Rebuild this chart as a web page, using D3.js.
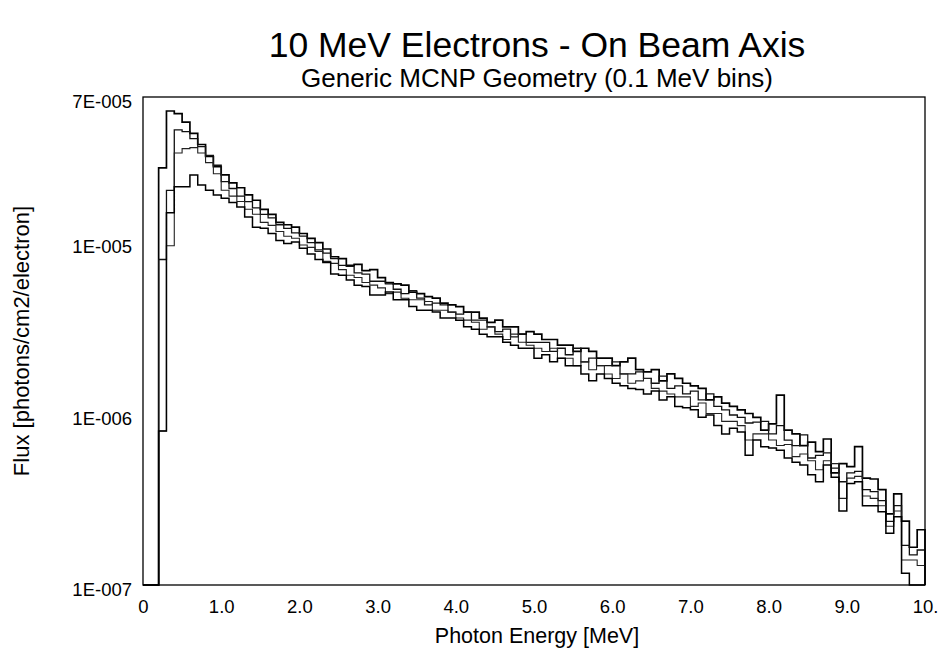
<!DOCTYPE html>
<html>
<head>
<meta charset="utf-8">
<script src="https://cdn.jsdelivr.net/npm/d3@7"></script>
<style>
    body { margin: 0; background: #fff; }
    svg { display: block; font-family: "Liberation Sans", Arial, sans-serif; }
</style>
</head>
<body>
<div id="chart"></div>
<script>
// bin width of the tallies (MeV); bin i covers [i*binWidth, (i+1)*binWidth]
const binWidth = 0.1;

// flux per bin, photons/cm2/electron (0 = below the axis)
const series1 = [
    0, 0, 2.7e-5, 5.8e-5, 5.6e-5, 5.0e-5, 4.3e-5, 3.7e-5, 3.15e-5, 2.75e-5,
    2.46e-5, 2.21e-5, 2.07e-5, 1.88e-5, 1.75e-5, 1.55e-5, 1.45e-5, 1.30e-5, 1.26e-5, 1.22e-5,
    1.12e-5, 1.05e-5, 9.9e-6, 9.1e-6, 8.2e-6, 8.0e-6, 7.3e-6, 7.4e-6, 6.8e-6, 6.9e-6,
    6.2e-6, 5.8e-6, 5.7e-6, 5.6e-6, 5.1e-6, 5.0e-6, 4.8e-6, 4.7e-6, 4.4e-6, 4.3e-6,
    4.2e-6, 3.9e-6, 3.9e-6, 3.6e-6, 3.4e-6, 3.5e-6, 3.2e-6, 3.2e-6, 2.9e-6, 3.0e-6,
    2.9e-6, 2.7e-6, 2.7e-6, 2.5e-6, 2.5e-6, 2.3e-6, 2.4e-6, 2.3e-6, 2.1e-6, 2.1e-6,
    1.9e-6, 2.0e-6, 2.1e-6, 1.8e-6, 1.75e-6, 1.8e-6, 1.55e-6, 1.7e-6, 1.6e-6, 1.5e-6,
    1.45e-6, 1.4e-6, 1.2e-6, 1.25e-6, 1.15e-6, 1.1e-6, 1.05e-6, 1.0e-6, 9.5e-7, 8.0e-7,
    8.7e-7, 1.28e-6, 8.0e-7, 7.6e-7, 6.5e-7, 6.8e-7, 6.0e-7, 7.1e-7, 4.5e-7, 5.1e-7,
    4.9e-7, 6.4e-7, 4.2e-7, 4.15e-7, 3.6e-7, 2.6e-7, 3.4e-7, 2.36e-7, 1.66e-7, 2.1e-7
];
const series2 = [
    0, 0, 7.9e-6, 2.0e-5, 4.5e-5, 4.4e-5, 4.0e-5, 3.6e-5, 3.2e-5, 2.8e-5,
    2.25e-5, 2.05e-5, 1.85e-5, 1.72e-5, 1.58e-5, 1.45e-5, 1.38e-5, 1.26e-5, 1.20e-5, 1.13e-5,
    1.08e-5, 9.9e-6, 9.0e-6, 8.6e-6, 8.0e-6, 7.3e-6, 7.2e-6, 6.6e-6, 6.5e-6, 5.9e-6,
    5.9e-6, 5.7e-6, 5.3e-6, 5.0e-6, 5.2e-6, 4.7e-6, 4.3e-6, 4.4e-6, 4.3e-6, 3.9e-6,
    3.8e-6, 3.9e-6, 3.5e-6, 3.5e-6, 3.2e-6, 3.0e-6, 3.1e-6, 2.8e-6, 2.9e-6, 2.6e-6,
    2.6e-6, 2.6e-6, 2.3e-6, 2.4e-6, 2.2e-6, 2.4e-6, 2.0e-6, 2.1e-6, 1.9e-6, 1.9e-6,
    2.0e-6, 1.7e-6, 1.7e-6, 1.75e-6, 1.6e-6, 1.5e-6, 1.65e-6, 1.4e-6, 1.45e-6, 1.3e-6,
    1.35e-6, 1.2e-6, 1.3e-6, 1.1e-6, 1.05e-6, 9.8e-7, 9.5e-7, 8.8e-7, 8.9e-7, 9.0e-7,
    7.6e-7, 8.5e-7, 7.0e-7, 6.5e-7, 7.5e-7, 5.5e-7, 5.7e-7, 5.9e-7, 4.8e-7, 4.0e-7,
    4.5e-7, 4.6e-7, 3.6e-7, 3.5e-7, 3.1e-7, 2.35e-7, 2.9e-7, 1.7e-7, 1.5e-7, 1.6e-7
];
const series3 = [
    0, 0, 7.9e-7, 9.5e-6, 3.3e-5, 3.5e-5, 3.55e-5, 3.3e-5, 2.9e-5, 2.5e-5,
    2.0e-5, 1.85e-5, 1.72e-5, 1.55e-5, 1.45e-5, 1.30e-5, 1.25e-5, 1.15e-5, 1.08e-5, 1.05e-5,
    9.6e-6, 9.3e-6, 8.8e-6, 7.7e-6, 7.5e-6, 6.9e-6, 6.4e-6, 6.2e-6, 5.8e-6, 5.6e-6,
    5.4e-6, 5.0e-6, 5.1e-6, 4.7e-6, 4.6e-6, 4.6e-6, 4.5e-6, 4.0e-6, 4.0e-6, 3.9e-6,
    3.6e-6, 3.5e-6, 3.4e-6, 3.1e-6, 3.2e-6, 2.9e-6, 2.7e-6, 2.9e-6, 2.6e-6, 2.5e-6,
    2.4e-6, 2.3e-6, 2.4e-6, 2.1e-6, 2.1e-6, 1.9e-6, 2.0e-6, 1.8e-6, 1.9e-6, 1.7e-6,
    1.6e-6, 1.7e-6, 1.5e-6, 1.55e-6, 1.6e-6, 1.4e-6, 1.35e-6, 1.3e-6, 1.25e-6, 1.25e-6,
    1.1e-6, 1.15e-6, 1.0e-6, 1.0e-6, 9.0e-7, 9.0e-7, 8.5e-7, 7.0e-7, 7.6e-7, 7.6e-7,
    7.0e-7, 6.5e-7, 6.6e-7, 5.6e-7, 5.8e-7, 5.3e-7, 4.7e-7, 5.3e-7, 5.1e-7, 3.2e-7,
    4.2e-7, 4.3e-7, 3.3e-7, 3.2e-7, 2.9e-7, 2.2e-7, 2.7e-7, 1.4e-7, 1.4e-7, 1.3e-7
];
const series4 = [
    0, 0, 7.9e-7, 1.48e-5, 2.1e-5, 2.1e-5, 2.46e-5, 2.15e-5, 2.0e-5, 1.88e-5,
    1.8e-5, 1.7e-5, 1.6e-5, 1.4e-5, 1.22e-5, 1.2e-5, 1.12e-5, 1.02e-5, 9.8e-6, 1.0e-5,
    9.2e-6, 8.5e-6, 7.9e-6, 7.6e-6, 6.5e-6, 6.4e-6, 6.0e-6, 5.6e-6, 5.5e-6, 4.9e-6,
    4.9e-6, 5.1e-6, 4.6e-6, 4.6e-6, 4.2e-6, 4.0e-6, 4.0e-6, 3.9e-6, 3.6e-6, 3.6e-6,
    3.5e-6, 3.2e-6, 3.1e-6, 2.9e-6, 2.8e-6, 2.8e-6, 2.6e-6, 2.5e-6, 2.4e-6, 2.4e-6,
    2.1e-6, 2.2e-6, 2.0e-6, 2.1e-6, 1.9e-6, 1.9e-6, 1.7e-6, 1.55e-6, 1.7e-6, 1.6e-6,
    1.5e-6, 1.45e-6, 1.4e-6, 1.38e-6, 1.3e-6, 1.35e-6, 1.2e-6, 1.25e-6, 1.1e-6, 1.08e-6,
    1.05e-6, 9.5e-7, 9.8e-7, 8.5e-7, 7.6e-7, 8.2e-7, 7.8e-7, 5.7e-7, 7.0e-7, 6.4e-7,
    6.3e-7, 6.1e-7, 5.5e-7, 5.2e-7, 5.0e-7, 4.4e-7, 4.0e-7, 5.0e-7, 4.25e-7, 2.7e-7,
    3.9e-7, 4.0e-7, 2.9e-7, 2.9e-7, 2.67e-7, 2.0e-7, 2.5e-7, 1.17e-7, 0, 0
];

const xTicks = [0, 1, 2, 3, 4, 5, 6, 7, 8, 9, 10];
const xTickLabels = ["0", "1.0", "2.0", "3.0", "4.0", "5.0", "6.0", "7.0", "8.0", "9.0", "10."];
const yTicks = [1e-7, 1e-6, 1e-5, 7e-5];
const yTickLabels = ["1E-007", "1E-006", "1E-005", "7E-005"];

class StepChart {
    constructor(_config, _data) {
        this.config = {
            parentElement: _config.parentElement,
            containerWidth: 939,
            containerHeight: 653,
            margin: {
                top: 97,
                right: 14,
                bottom: 68,
                left: 143
            }
        }
        this.data = _data;
        this.initVis();
    }

    initVis() {
        let vis = this;

        vis.config.width = vis.config.containerWidth - vis.config.margin.left - vis.config.margin.right;
        vis.config.height = vis.config.containerHeight - vis.config.margin.top - vis.config.margin.bottom;

        vis.root = d3.select(vis.config.parentElement)
            .append("svg")
            .attr("width", vis.config.containerWidth)
            .attr("height", vis.config.containerHeight);

        vis.svg = vis.root.append("g")
            .attr("transform", `translate(${vis.config.margin.left},${vis.config.margin.top})`);

        vis.xScale = d3.scaleLinear()
            .domain([0, 10])
            .range([0, vis.config.width]);

        vis.yScale = d3.scaleLog()
            .domain([yTicks[0], yTicks[yTicks.length - 1]])
            .range([vis.config.height, 0])
            .clamp(true);

        vis.xAxis = d3.axisBottom(vis.xScale)
            .tickValues(xTicks)
            .tickFormat((d, i) => xTickLabels[i])
            .tickSize(0)
            .tickPadding(15);

        vis.yAxis = d3.axisLeft(vis.yScale)
            .tickValues(yTicks)
            .tickFormat((d, i) => yTickLabels[i])
            .tickSize(0)
            .tickPadding(11);

        // titles, centred on the page a bit right of the plot centre
        const cx = 537;
        vis.root.append("text")
            .attr("x", cx).attr("y", 57)
            .attr("text-anchor", "middle")
            .attr("font-size", 35.5)
            .text("10 MeV Electrons - On Beam Axis");
        vis.root.append("text")
            .attr("x", cx).attr("y", 87)
            .attr("text-anchor", "middle")
            .attr("font-size", 26)
            .text("Generic MCNP Geometry (0.1 MeV bins)");
        vis.root.append("text")
            .attr("x", cx).attr("y", 643)
            .attr("text-anchor", "middle")
            .attr("font-size", 21.5)
            .text("Photon Energy [MeV]");
        vis.root.append("text")
            .attr("transform", `translate(29,341) rotate(-90)`)
            .attr("text-anchor", "middle")
            .attr("font-size", 22)
            .text("Flux [photons/cm2/electron]");

        vis.svg.append("g")
            .attr("class", "x-axis axis")
            .attr("transform", `translate(0,${vis.config.height})`);

        vis.svg.append("g")
            .attr("class", "y-axis axis");

        vis.updateVis();
    }

    updateVis() {
        let vis = this;

        vis.svg.select(".x-axis").call(vis.xAxis);
        vis.svg.select(".y-axis").call(vis.yAxis);
        vis.svg.selectAll(".axis .domain").remove();
        vis.svg.selectAll(".axis text")
            .attr("font-size", 18.5)
            .attr("font-family", "Liberation Sans, Arial, sans-serif")
            .attr("fill", "#000");
        vis.svg.selectAll(".y-axis text").attr("dy", "0.58em");

        const floor = vis.yScale.domain()[0];
        const line = d3.line()
            .x(d => vis.xScale(d.x))
            .y(d => vis.yScale(d.v > 0 ? d.v : floor))
            .curve(d3.curveStepAfter);

        const paths = vis.data.map(s => {
            const pts = s.values.map((v, i) => ({ x: i * binWidth, v: v }));
            pts.push({ x: s.values.length * binWidth, v: 0 });
            return { pts: pts, width: s.width, color: s.color };
        });

        vis.svg.selectAll(".flux")
            .data(paths)
            .join("path")
            .attr("class", "flux")
            .attr("fill", "none")
            .attr("stroke", d => d.color)
            .attr("stroke-width", d => d.width)
            .attr("stroke-linejoin", "miter")
            .attr("d", d => line(d.pts));

        vis.svg.append("rect")
            .attr("x", 0)
            .attr("y", 0)
            .attr("width", vis.config.width)
            .attr("height", vis.config.height)
            .attr("fill", "none")
            .attr("stroke", "#000")
            .attr("stroke-width", 1.3);
    }
}

const chart = new StepChart({ parentElement: "#chart" }, [
    { values: series1, width: 1.7, color: "#000" },
    { values: series2, width: 1.3, color: "#111" },
    { values: series3, width: 1.1, color: "#222" },
    { values: series4, width: 1.5, color: "#000" }
]);
</script>
</body>
</html>
